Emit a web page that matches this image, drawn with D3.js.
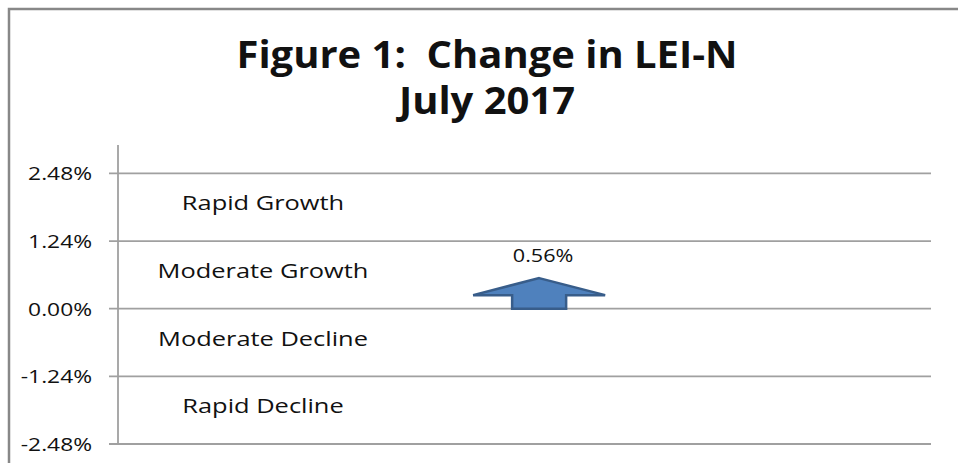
<!DOCTYPE html>
<html>
<head>
<meta charset="utf-8">
<script src="https://cdn.jsdelivr.net/npm/d3@7"></script>
<style>
    body { margin: 0; background: #fff; }
    svg text { font-family: 'Open Sans', sans-serif; fill: #111; white-space: pre; }
</style>
</head>
<body>
<svg id="chart" width="958" height="463"></svg>
<script>
// chart values
const titleLines = ['Figure 1:  Change in LEI-N', 'July 2017'];
const tickValues = [2.48, 1.24, 0, -1.24, -2.48];
const tickLabels = ['2.48%', '1.24%', '0.00%', '-1.24%', '-2.48%'];
const zoneNames = ['Rapid Growth', 'Moderate Growth', 'Moderate Decline', 'Rapid Decline'];
const zoneMids = [1.86, 0.62, -0.62, -1.86];
const changeValue = [0.56];
const changeLabel = ['0.56%'];

const width = 958, height = 463;
const margin = {top: 145, right: 27, bottom: 19, left: 118};

const svg = d3.select('#chart');

// outer frame
svg.append('rect')
    .attr('x', 9).attr('y', 9)
    .attr('width', width + 10).attr('height', height + 10)
    .attr('fill', 'none')
    .attr('stroke', '#888')
    .attr('stroke-width', 2.5);

const y = d3.scaleLinear()
    .domain([-2.48, 3.0])
    .range([height - margin.bottom, margin.top]);

const x = d3.scaleLinear()
    .domain([0, 1])
    .range([margin.left, width - margin.right]);

// glyphs in the source are stretched sideways
function stretched(sel, px, py, sx){
    return sel.attr('transform', `translate(${px},${py}) scale(${sx},1)`);
}

// title
titleLines.forEach((t, i) => {
    stretched(svg.append('text'), 487, 68 + i * 46, 1.08)
        .attr('text-anchor', 'middle')
        .style('font-size', '37px')
        .style('font-weight', 700)
        .text(t);
});

// gridlines
svg.append('g').selectAll('line.grid')
    .data(tickValues)
    .enter()
        .append('line')
        .attr('class', 'grid')
        .attr('x1', margin.left - 9)
        .attr('x2', width - margin.right)
        .attr('y1', d => y(d))
        .attr('y2', d => y(d))
        .attr('stroke', '#a0a0a0')
        .attr('stroke-width', 1.8);

// y axis line
svg.append('line')
    .attr('x1', margin.left).attr('x2', margin.left)
    .attr('y1', y(3.0)).attr('y2', y(-2.48))
    .attr('stroke', '#a0a0a0')
    .attr('stroke-width', 1.8);

// tick labels
svg.append('g').selectAll('text')
    .data(tickValues)
    .enter()
        .append('text')
        .each(function(d, i){
            stretched(d3.select(this), 92, y(d) + 7, 1.2)
                .attr('text-anchor', 'end')
                .style('font-size', '19px')
                .text(tickLabels[i]);
        });

// zone labels
svg.append('g').selectAll('text')
    .data(zoneMids)
    .enter()
        .append('text')
        .each(function(d, i){
            stretched(d3.select(this), 263, y(d) + 3, 1.27)
                .attr('text-anchor', 'middle')
                .style('font-size', '20px')
                .text(zoneNames[i]);
        });

// arrow marking the change
const cx = x(0.518);
const headHalf = 66, shaftHalf = 27, headH = 17;
svg.append('g').selectAll('path.arrow')
    .data(changeValue)
    .enter()
        .append('path')
        .attr('class', 'arrow')
        .attr('d', d => {
            let tip = y(d), base = y(0), neck = tip + headH;
            return `M ${cx} ${tip} L ${cx + headHalf} ${neck} L ${cx + shaftHalf} ${neck} L ${cx + shaftHalf} ${base}` +
                ` L ${cx - shaftHalf} ${base} L ${cx - shaftHalf} ${neck} L ${cx - headHalf} ${neck} Z`;
        })
        .attr('fill', '#4f81bd')
        .attr('stroke', '#385d8a')
        .attr('stroke-width', 2.5)
        .attr('stroke-linejoin', 'miter');

svg.append('g').selectAll('text.value')
    .data(changeValue)
    .enter()
        .append('text')
        .attr('class', 'value')
        .each(function(d, i){
            stretched(d3.select(this), cx + 4, y(d) - 16, 1.2)
                .attr('text-anchor', 'middle')
                .style('font-size', '18px')
                .text(changeLabel[i]);
        });
</script>
</body>
</html>
